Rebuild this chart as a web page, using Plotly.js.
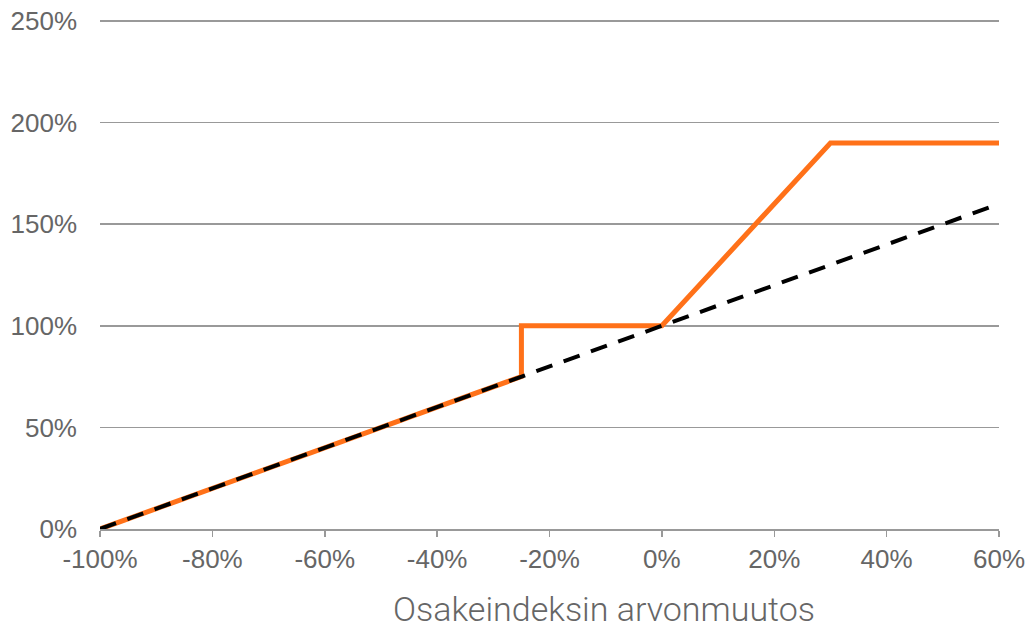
<!DOCTYPE html>
<html>
<head>
<meta charset="utf-8">
<script src="https://cdn.plot.ly/plotly-3.0.1.min.js"></script>
<style>html,body{margin:0;padding:0;background:#fff;}#chart{width:1028px;height:631px;}</style>
</head>
<body>
<div id="chart"></div>
<script>
const productX = [-100, -25, -25, 0, 30, 60];
const productY = [0, 75, 100, 100, 190, 190];
const indexX = [-100, 60];
const indexY = [0, 160];
const xTicks = [-100, -80, -60, -40, -20, 0, 20, 40, 60];
const yTicks = [0, 50, 100, 150, 200, 250];
const xTitle = 'Osakeindeksin arvonmuutos';

const traces = [
  {x: productX.map(v => v / 100), y: productY.map(v => v / 100), mode: 'lines', type: 'scatter',
   line: {color: '#FF7119', width: 5}, hoverinfo: 'skip'},
  {x: indexX.map(v => v / 100), y: indexY.map(v => v / 100), mode: 'lines', type: 'scatter',
   line: {color: '#000000', width: 4, dash: '17px,12px'}, hoverinfo: 'skip'}
];

const layout = {
  width: 1028, height: 631,
  margin: {l: 100, r: 29, t: 19, b: 102},
  paper_bgcolor: '#fff', plot_bgcolor: '#fff',
  showlegend: false,
  font: {family: 'Liberation Sans, Arial, sans-serif', color: '#666666', size: 26},
  xaxis: {
    range: [-1, 0.6], tickvals: xTicks.map(v => v / 100), ticktext: xTicks.map(v => v + '%'),
    showgrid: false, zeroline: false, showline: true, linecolor: '#999999', linewidth: 1.5,
    ticks: 'outside', ticklen: 6, tickcolor: '#999999', tickwidth: 1.5,
    tickfont: {size: 26, color: '#666666'}
  },
  yaxis: {
    range: [0, 2.51], tickvals: yTicks.map(v => v / 100), ticktext: yTicks.map(v => v + '%'),
    showgrid: true, gridcolor: '#999999', gridwidth: 1.5, zeroline: false, showline: false,
    ticks: '', ticklabelstandoff: 22,
    tickfont: {size: 26, color: '#666666'}
  },
  annotations: [{
    text: xTitle, xref: 'paper', yref: 'paper', x: 0.5606, y: -0.2, xanchor: 'center', yanchor: 'bottom',
    showarrow: false, font: {family: 'Roboto, sans-serif', size: 34, color: '#666666', weight: 300}
  }]
};

Plotly.newPlot('chart', traces, layout, {staticPlot: true, displayModeBar: false});
</script>
</body>
</html>
